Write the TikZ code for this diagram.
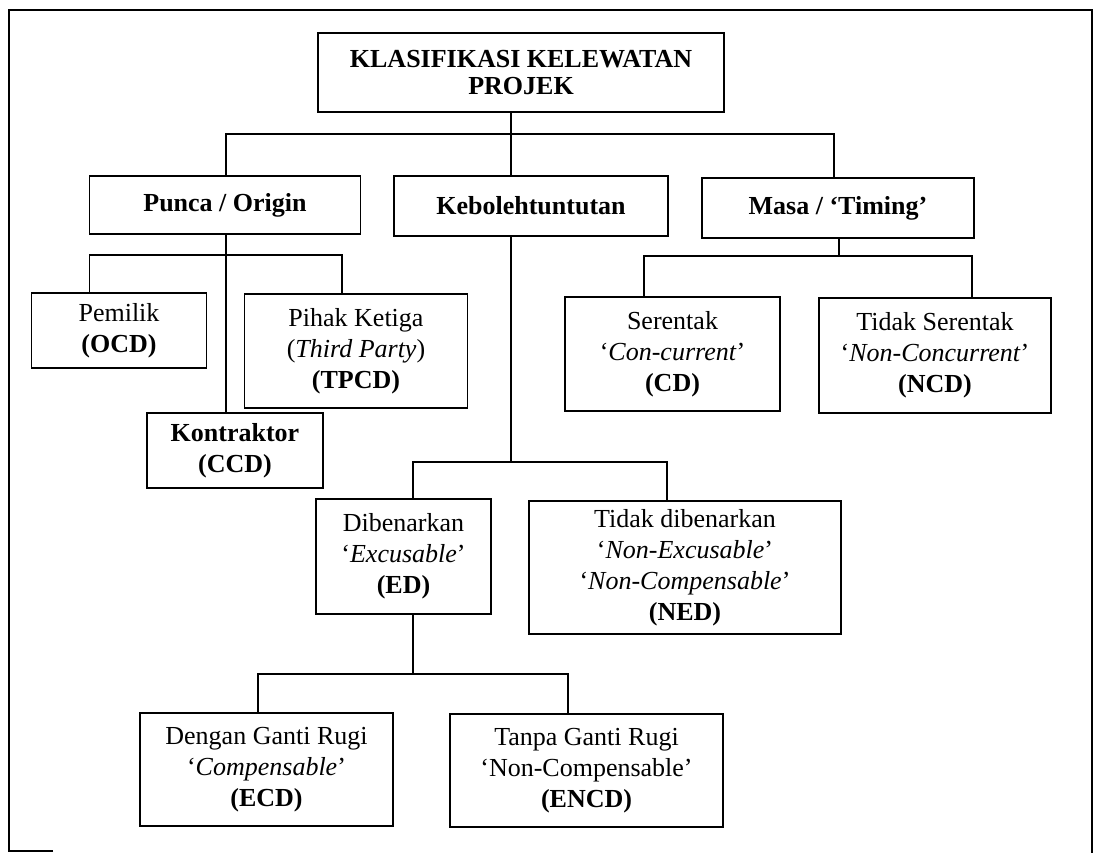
\documentclass[tikz,border=0pt]{standalone}
\usepackage{fontspec}
\setmainfont{Liberation Serif}
\begin{document}
\begin{tikzpicture}[x=1pt,y=-1pt,
  box/.style={draw, line width=1.8pt, align=center, inner sep=0pt,
    font=\fontsize{26}{31}\selectfont},
  titlebox/.style={box, font=\fontsize{26}{27}\selectfont\bfseries},
  conn/.style={line width=1.5pt},
  frame/.style={line width=2.5pt}]
\useasboundingbox (0,0) rectangle (1095,853);
% outer frame (as scanned)
\coordinate (f1) at (53,851);
\coordinate (f2) at (9,851);
\coordinate (f3) at (9,10);
\coordinate (f4) at (1092,10);
\coordinate (f5) at (1092,853);
\draw[frame] (f1) -- (f2) -- (f3) -- (f4) -- (f5);

% nodes
\node[titlebox, minimum width=406, minimum height=79] (title) at (521,72.5) {KLASIFIKASI KELEWATAN\\PROJEK};
\node[box, minimum width=271, minimum height=58] (punca) at (225,205) {\textbf{Punca / Origin}};
\node[box, minimum width=274, minimum height=60] (keb) at (531,206) {\textbf{Kebolehtuntutan}};
\node[box, minimum width=272, minimum height=60] (masa) at (838,208) {\textbf{Masa / ‘Timing’}};

\node[box, minimum width=175, minimum height=75] (pemilik) at (119,330.5) {Pemilik\\\textbf{(OCD)}};
\node[box, minimum width=223, minimum height=114] (pihak) at (356,351) {Pihak Ketiga\\(\textit{Third Party})\\\textbf{(TPCD)}};
\node[box, minimum width=176, minimum height=75] (kontraktor) at (235,450.5) {\textbf{Kontraktor}\\\textbf{(CCD)}};

\node[box, minimum width=215, minimum height=114] (serentak) at (672.5,354) {Serentak\\‘\textit{Con-current}’\\\textbf{(CD)}};
\node[box, minimum width=232, minimum height=115] (tidakser) at (935,355.5) {Tidak Serentak\\‘\textit{Non-Concurrent}’\\\textbf{(NCD)}};

\node[box, minimum width=175, minimum height=115] (diben) at (403.5,556.5) {Dibenarkan\\‘\textit{Excusable}’\\\textbf{(ED)}};
\node[box, minimum width=312, minimum height=133] (tidakdib) at (685,567.5) {Tidak dibenarkan\\‘\textit{Non-Excusable}’\\‘\textit{Non-Compensable}’\\\textbf{(NED)}};

\node[box, minimum width=253, minimum height=113] (dengan) at (266.5,769.5) {Dengan Ganti Rugi\\‘\textit{Compensable}’\\\textbf{(ECD)}};
\node[box, minimum width=273, minimum height=113] (tanpa) at (586.5,770.5) {Tanpa Ganti Rugi\\‘Non-Compensable’\\\textbf{(ENCD)}};

% level 1 connectors
\coordinate (b0a) at (226,134);
\coordinate (b0b) at (511,134);
\coordinate (b0c) at (834,134);
\draw[conn] (title.south -| b0b) -- (keb.north -| b0b);
\draw[conn] (punca.north -| b0a) -- (b0a) -- (b0c) -- (masa.north -| b0c);

% Punca children
\coordinate (b1a) at (89.5,255);
\coordinate (b1b) at (342,255);
\coordinate (b1c) at (226,255);
\draw[conn] (punca.south -| b1c) -- (kontraktor.north -| b1c);
\draw[conn] (pemilik.north -| b1a) -- (b1a) -- (b1b) -- (pihak.north -| b1b);

% Masa children
\coordinate (b2) at (839,256);
\coordinate (b2a) at (644,256);
\coordinate (b2b) at (972,256);
\draw[conn] (masa.south -| b2) -- (b2);
\draw[conn] (serentak.north -| b2a) -- (b2a) -- (b2b) -- (tidakser.north -| b2b);

% Kebolehtuntutan children
\coordinate (b3) at (511,462);
\coordinate (b3a) at (413,462);
\coordinate (b3b) at (667,462);
\draw[conn] (keb.south -| b3) -- (b3);
\draw[conn] (diben.north -| b3a) -- (b3a) -- (b3b) -- (tidakdib.north -| b3b);

% Dibenarkan children
\coordinate (b4) at (413,674);
\coordinate (b4a) at (258,674);
\coordinate (b4b) at (568,674);
\draw[conn] (diben.south -| b4) -- (b4);
\draw[conn] (dengan.north -| b4a) -- (b4a) -- (b4b) -- (tanpa.north -| b4b);
\end{tikzpicture}
\end{document}
